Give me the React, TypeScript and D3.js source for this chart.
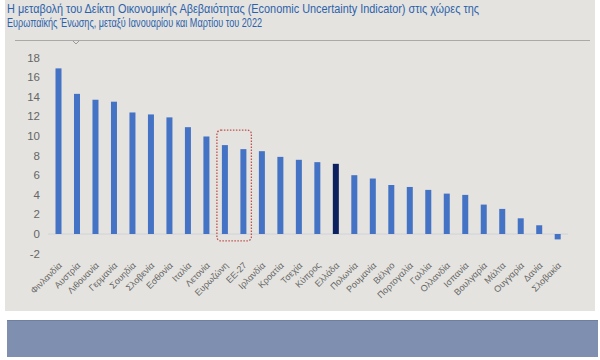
import React from 'react';
import * as d3 from 'd3';

// EU countries, change of the Economic Uncertainty Indicator Jan -> Mar 2022
const countries = [
  'Φινλανδία', 'Αυστρία', 'Λιθουανία', 'Γερμανία', 'Σουηδία', 'Σλοβενία', 'Εσθονία',
  'Ιταλία', 'Λετονία', 'Ευρωζώνη', 'ΕΕ-27', 'Ιρλανδία', 'Κροατία', 'Τσεχία',
  'Κύπρος', 'Ελλάδα', 'Πολωνία', 'Ρουμανία', 'Βέλγιο', 'Πορτογαλία', 'Γαλλία',
  'Ολλανδία', 'Ισπανία', 'Βουλγαρία', 'Μάλτα', 'Ουγγαρία', 'Δανία', 'Σλοβακία',
];
const changes = [
  16.9, 14.3, 13.7, 13.5, 12.4, 12.2, 11.9,
  10.9, 9.95, 9.07, 8.66, 8.45, 7.87, 7.57,
  7.33, 7.16, 6.0, 5.66, 5.0, 4.8, 4.5,
  4.12, 3.99, 3.0, 2.56, 1.6, 0.89, -0.55,
];
const yTicks = [-2, 0, 2, 4, 6, 8, 10, 12, 14, 16, 18];
const highlighted = ['Ευρωζώνη', 'ΕΕ-27'];
const titleLines = [
  'Η μεταβολή του Δείκτη Οικονομικής Αβεβαιότητας (Economic Uncertainty Indicator) στις χώρες της',
  'Ευρωπαϊκής Ένωσης, μεταξύ Ιανουαρίου και Μαρτίου του 2022',
];
const titleWidths = [472, 255];

const W = 600;
const H = 360;
const font = '"Liberation Sans", Arial, sans-serif';

const App = () => {
  const x = d3.scalePoint<string>().domain(countries).range([58.5, 557.7]);
  const y = d3.scaleLinear().domain([-2, 18]).range([253.6, 57.6]);
  const barW = 6;

  const hx0 = x(highlighted[0])! - barW / 2 - 5;
  const hx1 = x(highlighted[1])! + barW / 2 + 5;

  return (
    <svg width={W} height={H} style={{ position: 'absolute', left: 0, top: 0, background: '#fff' }}>
      {/* panel */}
      <rect x={5} y={0} width={590} height={311} fill="#e4e3df" />
      {titleLines.map((t, i) => (
        <text
          key={i}
          x={7}
          y={13 + i * 14}
          fontFamily={font}
          fontSize={12}
          fill="#2c62ab"
          textLength={titleWidths[i]}
          lengthAdjust="spacingAndGlyphs"
        >
          {t}
        </text>
      ))}
      <line x1={15} x2={590} y1={40.5} y2={40.5} stroke="#a9a9a9" />
      <path d="M73,41 L76,44 L79,41" fill="none" stroke="#9a9a9a" />

      {/* y axis labels */}
      {yTicks.map(t => (
        <text key={t} x={40} y={y(t)} dy="0.35em" textAnchor="end" fontFamily={font} fontSize={11.5} fill="#666">
          {t}
        </text>
      ))}

      {/* zero line */}
      <line x1={48} x2={568} y1={y(0)} y2={y(0)} stroke="#cfd2da" />

      {countries.map((c, i) => {
        const v = changes[i];
        return (
          <rect
            key={c}
            x={x(c)! - barW / 2}
            y={y(Math.max(0, v))}
            width={barW}
            height={Math.abs(y(v) - y(0))}
            fill={c === 'Ελλάδα' ? '#0c1f5e' : '#4472c4'}
          />
        );
      })}

      {/* highlight box */}
      <rect
        x={hx0}
        y={y(10.6)}
        width={hx1 - hx0}
        height={y(-0.7) - y(10.6)}
        rx={4}
        fill="none"
        stroke="#c0504d"
        strokeWidth={1.3}
        strokeDasharray="1.5,1.5"
      />

      {/* category labels */}
      {countries.map(c => (
        <text
          key={c}
          transform={`translate(${x(c)! + 4},${266}) rotate(-45)`}
          textAnchor="end"
          fontFamily={font}
          fontSize={9}
          fill="#666"
        >
          {c}
        </text>
      ))}

      {/* lower band */}
      <rect x={7} y={320} width={591} height={37} fill="#7f8fb0" />
      <line x1={7} x2={598} y1={320.5} y2={320.5} stroke="#6f7f9f" />
    </svg>
  );
};

export default App;
